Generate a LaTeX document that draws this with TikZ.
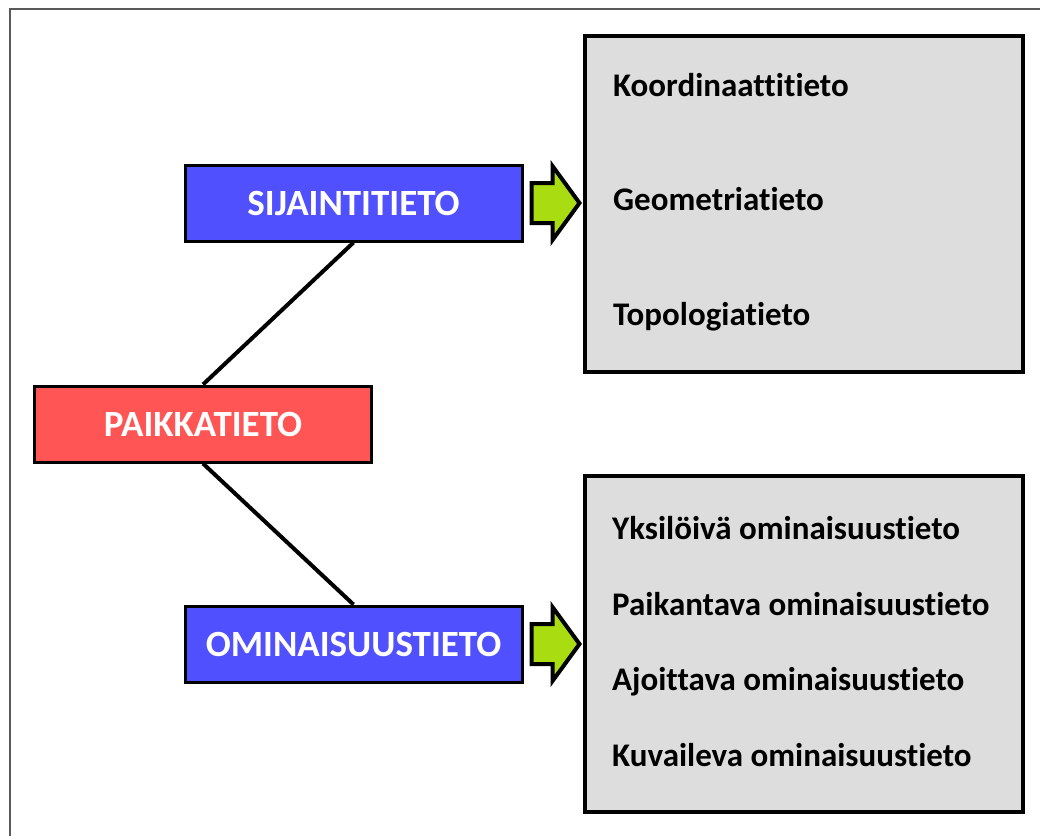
\documentclass[tikz,border=0pt]{standalone}
\usepackage{fontspec}
\setmainfont{Carlito}[Ligatures=NoCommon]
\usetikzlibrary{calc}
\definecolor{boxblue}{HTML}{5050FF}
\definecolor{boxred}{HTML}{FF5555}
\definecolor{boxgray}{HTML}{DDDDDD}
\definecolor{arrgreen}{HTML}{AADD11}
\definecolor{framegray}{HTML}{5A5A5A}
\begin{document}
\begin{tikzpicture}[x=1pt,y=-1pt,
  mainbox/.style={draw=black, line width=3pt, minimum width=337pt, minimum height=76pt, inner sep=0pt,
    text=white, font=\bfseries\fontsize{37}{40}\selectfont},
  listbox/.style={draw=black, line width=3.5pt, fill=boxgray, minimum width=438pt, minimum height=336pt, inner sep=0pt},
  item/.style={anchor=base west, inner sep=0pt, font=\bfseries\fontsize{33}{36}\selectfont},
  link/.style={line width=4pt, black},
  blockarrow/.style={draw=black, line width=4pt, fill=arrgreen, line join=miter}
]
\useasboundingbox (0,0) rectangle (1040,836);
\fill[white] (0,0) rectangle (1040,836);
\draw[framegray, line width=2pt] (9.5,836) -- (9.5,8.5) -- (1040,8.5);

\node[listbox] (top) at (804,204) {};
\node[listbox] (bot) at (804,644) {};

\node[mainbox, fill=boxblue] (sij) at (353.5,203) {SIJAINTITIETO};
\node[mainbox, fill=boxred] (pai) at (203,424) {PAIKKATIETO};
\node[mainbox, fill=boxblue] (omi) at (353.5,644) {OMINAISUUSTIETO};

\draw[link] (sij.south) -- (pai.north);
\draw[link] (pai.south) -- (omi.north);

\foreach \b in {sij,omi}{
  \draw[blockarrow] ($(\b.east)+(8,-20)$) -- ($(\b.east)+(29,-20)$) -- ($(\b.east)+(29,-37)$)
    -- ($(\b.east)+(56,0)$) -- ($(\b.east)+(29,37)$) -- ($(\b.east)+(29,20)$) -- ($(\b.east)+(8,20)$) -- cycle;
}

\node[item] (t1) at (613,96) {Koordinaattitieto};
\node[item] (t2) at (613,210) {Geometriatieto};
\node[item] (t3) at (613,325) {Topologiatieto};

\node[item] (b1) at (612,539) {Yksilöivä ominaisuustieto};
\node[item] (b2) at (612,615) {Paikantava ominaisuustieto};
\node[item] (b3) at (612,690) {Ajoittava ominaisuustieto};
\node[item] (b4) at (612,766) {Kuvaileva ominaisuustieto};
\end{tikzpicture}
\end{document}
